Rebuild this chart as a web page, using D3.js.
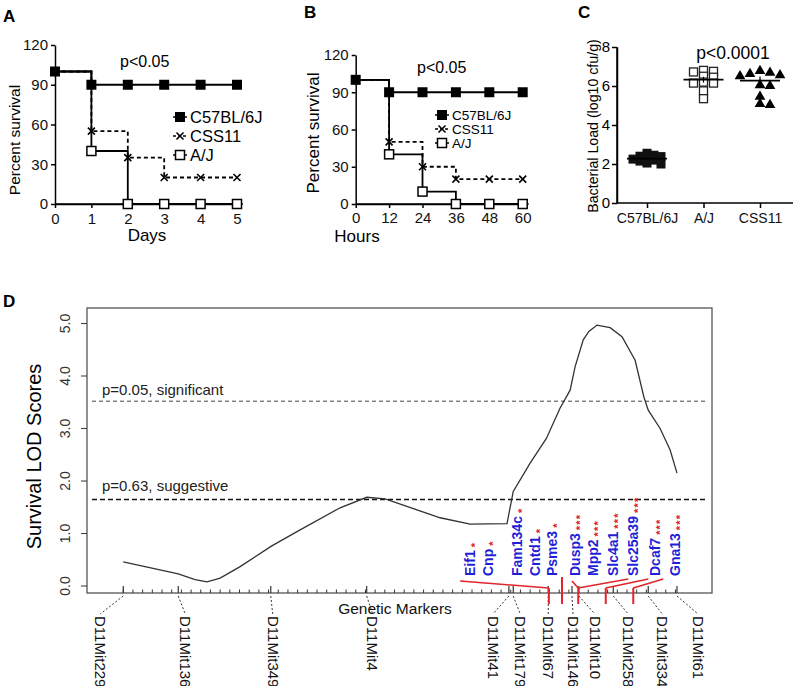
<!DOCTYPE html>
<html>
<head>
<meta charset="utf-8">
<script src="https://cdn.jsdelivr.net/npm/d3@7"></script>
<style>
body { margin: 0; background: #fff; }
text { font-family: "Liberation Sans", Arial, sans-serif; }
</style>
</head>
<body>
<script>
// ---- data ----
var days = [0, 1, 2, 3, 4, 5];
var daysC57 = [100, 90, 90, 90, 90, 90];
var daysCSS11 = [100, 55, 35, 20, 20, 20];
var daysAJ = [100, 40, 0, 0, 0, 0];

var hours = [0, 12, 24, 36, 48, 60];
var hoursC57 = [100, 90, 90, 90, 90, 90];
var hoursCSS11 = [100, 50, 30, 20, 20, 20];
var hoursAJ = [100, 40, 10, 0, 0, 0];

var strainNames = ['C57BL/6J', 'CSS11', 'A/J'];
var survivalTicks = [0, 30, 60, 90, 120];

var loadGroups = ['C57BL/6J', 'A/J', 'CSS11'];
var loadC57 = [2.55, 2.45, 2.4, 2.38, 2.3, 2.25, 2.2, 2.15, 2.05, 2.0];
var loadAJ = [6.8, 6.75, 6.72, 6.5, 6.45, 6.2, 6.15, 6.15, 5.75, 5.35];
var loadCSS11 = [6.77, 6.68, 6.62, 6.56, 6.5, 6.05, 6.0, 5.45, 5.08, 5.03];
var loadTicks = [0, 2, 4, 6, 8];

// panel D: chromosome 11 map, positions in map units (0-100)
var markerNames = ['D11Mit229', 'D11Mit136', 'D11Mit349', 'D11Mit4', 'D11Mit41', 'D11Mit179',
  'D11Mit67', 'D11Mit146', 'D11Mit10', 'D11Mit258', 'D11Mit334', 'D11Mit61'];
var markerPos = [5.8, 14.6, 29.4, 44.75, 67.5, 68.2, 73.8, 77.6, 78.7, 84.2, 89.8, 94.4];

var lodPos = [5.8, 14.6, 17.3, 19.2, 21.3, 24.5, 29.5, 34.1, 40.5, 44.75, 47.7, 52.8, 56.5, 61.3, 67.2,
  68.2, 70.9, 73.5, 75.7, 77.3, 78.1, 79.4, 80.3, 81.6, 83.7, 85.6, 87.7, 89.1, 89.8, 91.7, 93.3, 94.4];
var lodScore = [0.46, 0.23, 0.12, 0.08, 0.15, 0.37, 0.76, 1.07, 1.49, 1.69, 1.66, 1.45, 1.3, 1.18, 1.19,
  1.8, 2.34, 2.81, 3.39, 3.73, 4.18, 4.69, 4.85, 4.97, 4.92, 4.75, 4.3, 3.6, 3.35, 3.0, 2.59, 2.15];
var lodTicks = [0, 1, 2, 3, 4, 5];

var thresholdValues = [3.52, 1.65];
var thresholdLabels = ['p=0.05, significant', 'p=0.63, suggestive'];

var geneNames = ['Eif1', 'Cnp', 'Fam134c', 'Cntd1', 'Psme3', 'Dusp3', 'Mpp2', 'Slc4a1', 'Slc25a39', 'Dcaf7', 'Gna13'];
var geneStars = ['*', '*', '*', '*', '*', '***', '***', '***', '***', '***', '***'];
var genePos = [61.3, 64.2, 68.75, 71.7, 74.35, 78.1, 81.0, 84.2, 87.4, 90.9, 94.1];

// red gene-to-map links: map position and where the slanted part starts
var linkPos = [73.9, 76.0, 78.6, 83.0, 87.4];
var linkFrom = [[59.7], [], [77.6, 86.6], [89.8], [92.2]];

// ---- layout ----
var W = 798, H = 686;
var svg = d3.select('body').append('svg')
  .attr('width', W)
  .attr('height', H);

var blue = '#1f1fd6';
var red = '#e0262a';
var narrow = '"Liberation Sans Narrow", "DejaVu Sans Condensed", sans-serif';

var panelLetter = (x, y, s) => {
  svg.append('text')
    .attr('x', x).attr('y', y)
    .attr('font-size', 17)
    .attr('font-weight', 'bold')
    .text(s);
};

var marker = (g, kind, mx, my) => {
  if (kind == 'filled') {
    g.append('rect').attr('x', mx - 5).attr('y', my - 5).attr('width', 10).attr('height', 10)
      .attr('fill', '#000');
  } else if (kind == 'open') {
    g.append('rect').attr('x', mx - 4.5).attr('y', my - 4.5).attr('width', 9).attr('height', 9)
      .attr('fill', '#fff').attr('stroke', '#000').attr('stroke-width', 1.5);
  } else {
    g.append('path')
      .attr('d', 'M' + (mx - 3.5) + ' ' + (my - 3.5) + 'L' + (mx + 3.5) + ' ' + (my + 3.5) +
        'M' + (mx - 3.5) + ' ' + (my + 3.5) + 'L' + (mx + 3.5) + ' ' + (my - 3.5))
      .attr('stroke', '#000').attr('stroke-width', 1.6);
  }
};

var styleAxis = (a, size) => {
  a.selectAll('path,line').attr('stroke', '#000').attr('stroke-width', 1.5);
  a.selectAll('text').attr('font-size', size).attr('fill', '#111')
    .attr('font-family', '"Liberation Sans", Arial, sans-serif');
};

/**
 * Draws one Kaplan-Meier style panel
 */
var drawSurvival = (opt) => {
  var g = svg.append('g');
  var x = opt.x, y = opt.y;

  // axes
  var yAxis = g.append('g')
    .attr('transform', 'translate(' + x.range()[0] + ',0)')
    .call(d3.axisLeft(y).tickValues(survivalTicks).tickFormat(d3.format('d'))
      .tickSize(4).tickSizeOuter(0).tickPadding(3));
  var xAxis = g.append('g')
    .attr('transform', 'translate(0,' + y(0) + ')')
    .call(d3.axisBottom(x).tickValues(opt.t).tickFormat(d3.format('d'))
      .tickSize(4).tickSizeOuter(0).tickPadding(opt.xPad));
  styleAxis(yAxis, 15);
  styleAxis(xAxis, 15);
  g.append('line')
    .attr('x1', x.range()[0]).attr('x2', x.range()[1] + 6)
    .attr('y1', y(0)).attr('y2', y(0))
    .attr('stroke', '#000').attr('stroke-width', 1.5);

  var line = d3.line()
    .x((d, i) => x(opt.t[i]))
    .y((d) => y(d))
    .curve(d3.curveStepAfter);

  g.append('path').datum(opt.css).attr('d', line)
    .attr('fill', 'none').attr('stroke', '#000').attr('stroke-width', 1.8).attr('stroke-dasharray', '4,3');
  g.append('path').datum(opt.aj).attr('d', line)
    .attr('fill', 'none').attr('stroke', '#000').attr('stroke-width', 1.8);
  g.append('path').datum(opt.c57).attr('d', line)
    .attr('fill', 'none').attr('stroke', '#000').attr('stroke-width', 1.8);

  opt.css.forEach((v, i) => { if (i > 0) marker(g, 'cross', x(opt.t[i]), y(v)); });
  opt.aj.forEach((v, i) => { if (i > 0) marker(g, 'open', x(opt.t[i]), y(v)); });
  opt.c57.forEach((v, i) => marker(g, 'filled', x(opt.t[i]), y(v)));

  // p value
  g.append('text')
    .attr('x', opt.pX).attr('y', opt.pY)
    .attr('font-size', 16)
    .text('p<0.05');

  // legend
  var kinds = ['filled', 'cross', 'open'];
  strainNames.forEach((s, i) => {
    var ly = opt.legY + i * opt.legStep;
    g.append('line')
      .attr('x1', opt.legX - 7).attr('x2', opt.legX + 7)
      .attr('y1', ly).attr('y2', ly)
      .attr('stroke', '#000').attr('stroke-width', 1.5)
      .attr('stroke-dasharray', i == 1 ? '3,2' : null);
    marker(g, kinds[i], opt.legX, ly);
    g.append('text')
      .attr('x', opt.legX + 10).attr('y', ly)
      .attr('dy', '0.36em')
      .attr('font-size', opt.legSize)
      .text(s);
  });

  // axis titles
  g.append('text')
    .attr('transform', 'translate(' + opt.yTitleX + ',' + opt.yTitleY + ') rotate(-90)')
    .attr('text-anchor', 'middle')
    .attr('dy', '0.35em')
    .attr('font-size', opt.titleSize)
    .text('Percent survival');
  g.append('text')
    .attr('x', opt.xTitleX).attr('y', opt.xTitleY)
    .attr('text-anchor', 'middle')
    .attr('font-size', 17)
    .text(opt.xTitle);
};

drawSurvival({
  t: days, c57: daysC57, css: daysCSS11, aj: daysAJ,
  x: d3.scaleLinear().domain([0, 5]).range([55, 237]),
  y: d3.scaleLinear().domain([0, 120]).range([204, 45]),
  xPad: 5, pX: 120, pY: 67,
  legX: 180, legY: 117, legStep: 19, legSize: 16.5,
  yTitleX: 15, yTitleY: 140, titleSize: 15.5,
  xTitle: 'Days', xTitleX: 147, xTitleY: 241
});

drawSurvival({
  t: hours, c57: hoursC57, css: hoursCSS11, aj: hoursAJ,
  x: d3.scaleLinear().domain([0, 60]).range([355.7, 522.7]),
  y: d3.scaleLinear().domain([0, 120]).range([204, 55]),
  xPad: 4, pX: 417, pY: 73,
  legX: 442, legY: 115, legStep: 14, legSize: 13.5,
  yTitleX: 313, yTitleY: 133, titleSize: 17,
  xTitle: 'Hours', xTitleX: 357, xTitleY: 242
});

panelLetter(3, 22, 'A');
panelLetter(304, 18, 'B');
panelLetter(578, 18, 'C');
panelLetter(3, 307, 'D');

// ---- panel C: bacterial load scatter ----
var gC = svg.append('g').attr('class', 'panel-c');
var xC = d3.scalePoint().domain(loadGroups).range([647, 760]);
var yC = d3.scaleLinear().domain([0, 8]).range([203, 47]);

var axC = gC.append('g')
  .attr('transform', 'translate(617,0)')
  .call(d3.axisLeft(yC).tickValues(loadTicks).tickFormat(d3.format('d'))
    .tickSize(5).tickSizeOuter(0).tickPadding(2));
var axCx = gC.append('g')
  .attr('transform', 'translate(0,203)')
  .call(d3.axisBottom(xC).tickSize(5).tickSizeOuter(0).tickPadding(5));
axCx.select('.domain').remove();
styleAxis(axC, 15);
styleAxis(axCx, 14);
axC.selectAll('text').attr('fill', '#000').attr('opacity', 1);
gC.append('line').attr('x1', 617).attr('x2', 617).attr('y1', 47).attr('y2', 203)
  .attr('stroke', '#000').attr('stroke-width', 1.5);
gC.append('line').attr('x1', 617).attr('x2', 793).attr('y1', 203).attr('y2', 203)
  .attr('stroke', '#000').attr('stroke-width', 1.5);

// simple deterministic swarm so points sit side by side
var swarm = (values, c0, step, dyMin) => {
  var placed = [];
  values.slice().sort((a, b) => b - a).forEach((v) => {
    var py = yC(v);
    for (var k = 0; k < 30; k++) {
      var off = k == 0 ? 0 : (k % 2 ? 1 : -1) * Math.ceil(k / 2) * step;
      var px = c0 + off;
      var hit = placed.some((p) => Math.abs(p.x - px) < step - 0.5 && Math.abs(p.y - py) < dyMin);
      if (!hit) { placed.push({ x: px, y: py, v: v }); break; }
    }
  });
  return placed;
};

var groups = [loadC57, loadAJ, loadCSS11];
var shapes = ['filled', 'open', 'tri'];
groups.forEach((vals, gi) => {
  var c = xC(loadGroups[gi]);
  var pts = gi == 0 ? swarm(vals, c, 7, 4) : swarm(vals, c, 10, 5.5);
  pts.forEach((p) => {
    if (shapes[gi] == 'tri') {
      gC.append('path')
        .attr('d', d3.symbol().type(d3.symbolTriangle).size(50)())
        .attr('transform', 'translate(' + p.x + ',' + p.y + ')')
        .attr('fill', '#000');
    } else if (shapes[gi] == 'open') {
      gC.append('rect').attr('x', p.x - 4).attr('y', p.y - 4).attr('width', 8).attr('height', 8)
        .attr('fill', '#fff').attr('stroke', '#222').attr('stroke-width', 1.3);
    } else {
      gC.append('rect').attr('x', p.x - 4.5).attr('y', p.y - 4.5).attr('width', 9).attr('height', 9)
        .attr('fill', '#111');
    }
  });
  var med = d3.median(vals);
  var sem = d3.deviation(vals) / Math.sqrt(vals.length);
  gC.append('line').attr('x1', c - 20).attr('x2', c + 20).attr('y1', yC(med)).attr('y2', yC(med))
    .attr('stroke', '#000').attr('stroke-width', 1.6);
  gC.append('line').attr('x1', c).attr('x2', c).attr('y1', yC(med - sem)).attr('y2', yC(med + sem))
    .attr('stroke', '#000').attr('stroke-width', 1.2);
});

gC.append('text')
  .attr('x', 733).attr('y', 59)
  .attr('text-anchor', 'middle')
  .attr('font-size', 17.5)
  .text('p<0.0001');
gC.append('text')
  .attr('transform', 'translate(593,126) rotate(-90)')
  .attr('text-anchor', 'middle')
  .attr('dy', '0.35em')
  .attr('font-size', 14.2)
  .text('Bacterial Load (log10 cfu/g)');

// ---- panel D: LOD profile ----
var gD = svg.append('g');
var xD = d3.scaleLinear().domain([0, 100]).range([87, 712]);
var yD = d3.scaleLinear().domain([0, 5]).range([586, 323.5]);
var boxTop = 308, boxBottom = 593;

gD.append('rect')
  .attr('x', xD(0)).attr('y', boxTop)
  .attr('width', xD(100) - xD(0)).attr('height', boxBottom - boxTop)
  .attr('fill', 'none').attr('stroke', '#555').attr('stroke-width', 1.3);

// y ticks with rotated labels
lodTicks.forEach((v) => {
  gD.append('line').attr('x1', xD(0) - 6).attr('x2', xD(0)).attr('y1', yD(v)).attr('y2', yD(v))
    .attr('stroke', '#444').attr('stroke-width', 1.1);
  gD.append('text')
    .attr('transform', 'translate(65,' + yD(v) + ') rotate(-90)')
    .attr('text-anchor', 'middle')
    .attr('dy', '0.35em')
    .attr('font-size', 14)
    .attr('font-family', narrow)
    .attr('fill', '#333')
    .text(d3.format('.1f')(v));
});

gD.append('text')
  .attr('transform', 'translate(34,' + ((boxTop + boxBottom) / 2 + 6) + ') rotate(-90)')
  .attr('text-anchor', 'middle')
  .attr('dy', '0.35em')
  .attr('font-size', 20)
  .text('Survival LOD Scores');

// threshold lines
thresholdValues.forEach((v, i) => {
  gD.append('line')
    .attr('x1', xD(0.8)).attr('x2', xD(99)).attr('y1', yD(v)).attr('y2', yD(v))
    .attr('stroke', i == 0 ? '#444' : '#111')
    .attr('stroke-width', i == 0 ? 1 : 1.5)
    .attr('stroke-dasharray', i == 0 ? '4,3' : '5,3');
  gD.append('text')
    .attr('x', 102).attr('y', yD(v) - (i == 0 ? 6 : 8))
    .attr('font-size', 15)
    .attr('fill', '#222')
    .text(thresholdLabels[i]);
});

// LOD curve
gD.append('path')
  .datum(lodScore)
  .attr('d', d3.line().x((d, i) => xD(lodPos[i])).y((d) => yD(d)))
  .attr('fill', 'none')
  .attr('stroke', '#333')
  .attr('stroke-width', 1.3);

// marker ticks: minor grid plus named markers
d3.range(5.8, 95, 1.55).forEach((p) => {
  gD.append('line').attr('x1', xD(p)).attr('x2', xD(p)).attr('y1', boxBottom - 3.5).attr('y2', boxBottom)
    .attr('stroke', '#333').attr('stroke-width', 1);
});

// label nudges so names do not collide
var labelNudge = [-23, 7, 2, 6, -16, 7, 0, 1, 16, 15, 14, 21];
markerPos.forEach((p, i) => {
  var tx = xD(p), lx = tx + labelNudge[i];
  gD.append('line').attr('x1', tx).attr('x2', tx).attr('y1', boxBottom - 7).attr('y2', boxBottom)
    .attr('stroke', '#333').attr('stroke-width', 1.2);
  gD.append('line').attr('x1', tx).attr('x2', lx).attr('y1', boxBottom + 3).attr('y2', 614)
    .attr('stroke', '#333').attr('stroke-width', 1).attr('stroke-dasharray', '2,2');
  gD.append('text')
    .attr('transform', 'translate(' + lx + ',616) rotate(90)')
    .attr('dy', '0.35em')
    .attr('font-size', 15)
    .attr('font-family', narrow)
    .attr('fill', '#111')
    .text(markerNames[i]);
});

gD.append('text')
  .attr('x', 395).attr('y', 614)
  .attr('text-anchor', 'middle')
  .attr('font-size', 15.5)
  .attr('fill', '#111')
  .text('Genetic Markers');

// red links from gene labels to map positions
linkPos.forEach((p, i) => {
  var x0 = xD(p);
  var top = linkFrom[i].length ? 588 : 577;
  gD.append('line').attr('x1', x0).attr('x2', x0).attr('y1', top).attr('y2', 604)
    .attr('stroke', red).attr('stroke-width', 2);
  linkFrom[i].forEach((f) => {
    gD.append('line').attr('x1', xD(f)).attr('x2', x0).attr('y1', f < p ? 581 : 579).attr('y2', 588)
      .attr('stroke', red).attr('stroke-width', 1.6);
  });
});

// gene names with significance stars
geneNames.forEach((name, i) => {
  var t = gD.append('text')
    .attr('transform', 'translate(' + xD(genePos[i]) + ',576) rotate(-90)')
    .attr('dy', '0.35em')
    .attr('font-size', 14)
    .attr('font-weight', 'bold');
  t.append('tspan').attr('fill', blue).text(name);
  t.append('tspan')
    .attr('fill', red)
    .attr('font-size', 11)
    .attr('dx', 3)
    .attr('dy', 4)
    .attr('letter-spacing', 1.2)
    .text(geneStars[i]);
});
</script>
</body>
</html>
